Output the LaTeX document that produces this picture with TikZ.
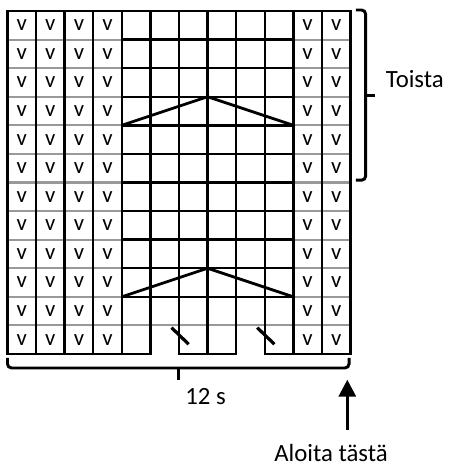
\documentclass[tikz,border=0pt]{standalone}
\usepackage{fontspec}
\setmainfont{Carlito}
\usetikzlibrary{arrows.meta}
\begin{document}
\begin{tikzpicture}[x=0.75cm,y=0.75cm,
    gridline/.style={line width=1.8pt,line cap=rect},
    softline/.style={line width=1.6pt,black!40},
    motif/.style={line width=2.1pt},
    slip/.style={line width=2.4pt},
    bracket/.style={line width=2.2pt,rounded corners=3pt},
    stitch/.style={inner sep=0pt,font=\fontsize{17}{18}\selectfont},
    chartlabel/.style={inner sep=0pt,font=\fontsize{18.5}{22}\selectfont}]
    \def\ncol{12} \def\nrow{12}
    \useasboundingbox (-0.262,0.385) rectangle (15.50,-15.92);
    % rows
    \foreach \r in {1,...,10}{
        \draw[softline] (0,-\r)--(4,-\r);
        \draw[softline] (10,-\r)--(12,-\r);
        \draw[gridline] (4,-\r)--(10,-\r);
    }
    \draw[softline] (0,-11)--(12,-11);
    % columns and border
    \foreach \c in {0,...,\ncol} \draw[gridline] (\c,0)--(\c,-\nrow);
    \draw[gridline] (0,0)--(\ncol,0);
    \draw[gridline] (0,-12)--(5,-12) (6,-12)--(8,-12) (9,-12)--(12,-12);
    % stitches
    \foreach \c in {0,1,2,3,10,11}
        \foreach \r in {0,...,11}
            \node[stitch] (v-\c-\r) at (\c+0.5,-\r-0.5) {v};
    \draw[motif] (4,-4)--(7,-3)--(10,-4);
    \draw[motif] (4,-10)--(7,-9)--(10,-10);
    \foreach \c in {6,9} \draw[slip] (\c-0.26,-11.08)--(\c+0.34,-11.66);
    % repeat
    \draw[bracket] (12.19,0.035)--(12.53,0.035)--(12.53,-5.92)--(12.19,-5.92);
    \draw[bracket] (12.53,-2.97)--(12.85,-2.97);
    \node[chartlabel,anchor=base west] (toista) at (13.23,-2.69) {Toista};
    % width
    \draw[bracket] (0,-12.14)--(0,-12.49)--(11.95,-12.49)--(11.95,-12.14);
    \draw[bracket] (6,-12.49)--(6,-12.9);
    \node[chartlabel,anchor=base] (leveys) at (6.93,-13.78) {12 s};
    % start
    \coordinate (alku) at (11.89,-14.66);
    \coordinate (karki) at (11.89,-12.9);
    \draw[-{Triangle[width=12.6pt,length=12.6pt]},line width=2.4pt] (alku)--(karki);
    \node[chartlabel,anchor=base] (aloita) at (11.32,-15.77) {Aloita tästä};
\end{tikzpicture}
\end{document}
